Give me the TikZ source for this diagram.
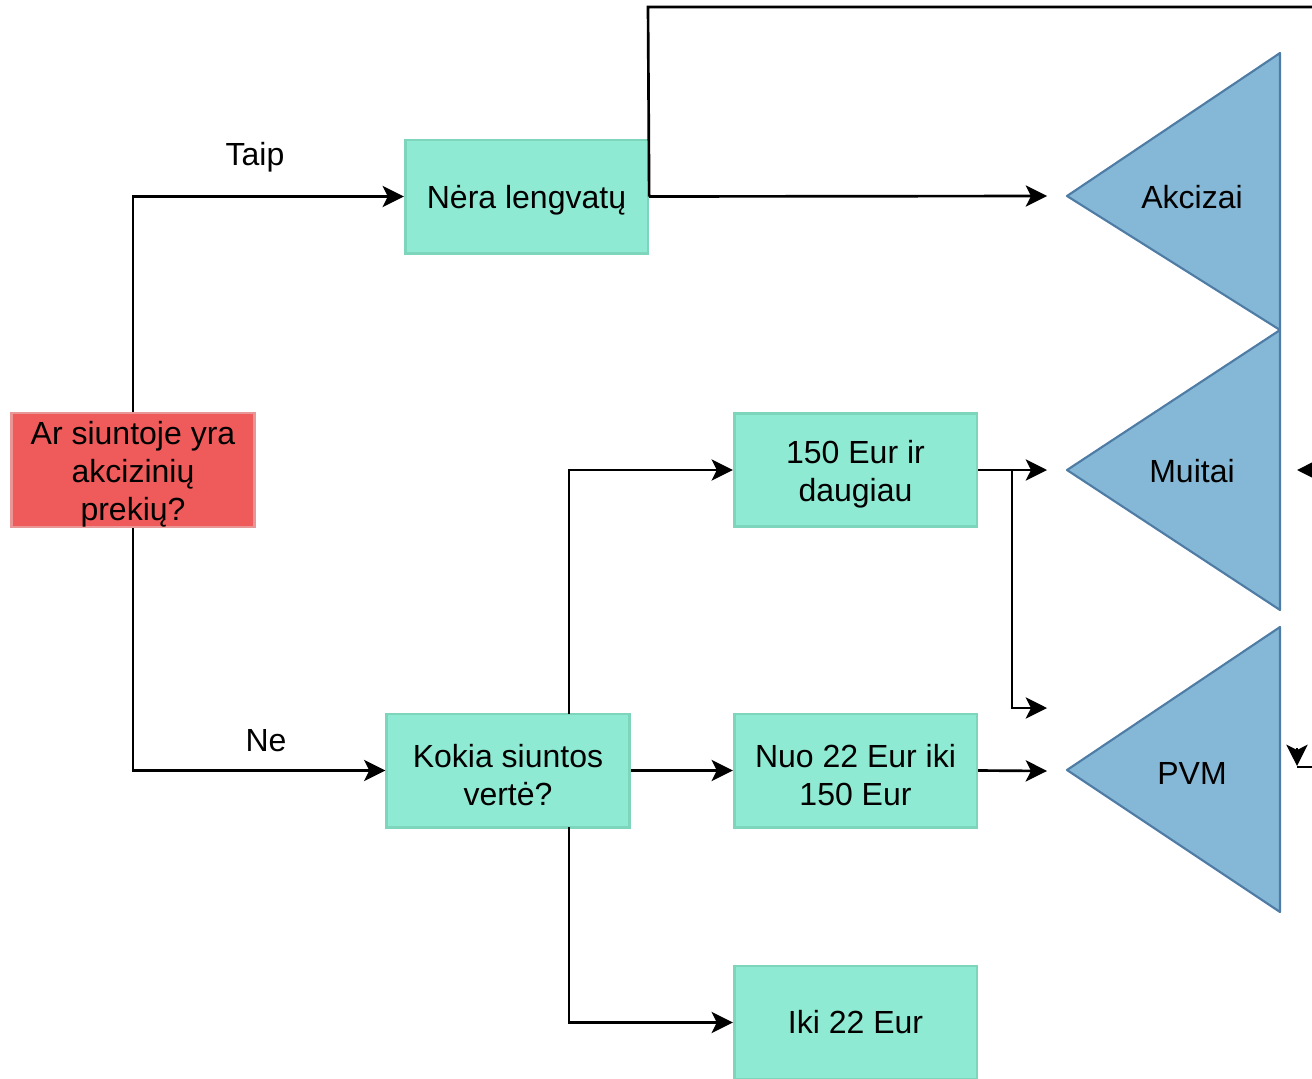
\documentclass[tikz,border=0pt]{standalone}
\usepackage{fontspec}
\setmainfont{Liberation Sans}
\usetikzlibrary{arrows.meta}
\definecolor{mint}{RGB}{143,234,211}
\definecolor{mintline}{RGB}{125,214,188}
\definecolor{redfill}{RGB}{239,90,90}
\definecolor{redline}{RGB}{232,150,150}
\definecolor{trifill}{RGB}{133,184,214}
\definecolor{triline}{RGB}{78,124,165}
\newcommand\boxstrut{\rule{0pt}{23.5pt}}
\tikzset{
  box/.style={draw=mintline, fill=mint, line width=2pt, minimum width=182pt, minimum height=85pt, inner sep=0pt, align=center, font=\fontsize{24}{28.5}\selectfont},
  qbox/.style={box, draw=redline, fill=redfill},
  tri/.style={draw=triline, fill=trifill, line width=1.6pt, line join=round},
  lbl/.style={font=\fontsize{24}{28.5}\selectfont, inner sep=0pt},
  conn/.style={line width=2pt, black},
  arr/.style={conn, -{Stealth[length=16pt,width=16pt,inset=4pt,line width=1.2pt]}},
}
\begin{document}
\begin{tikzpicture}[x=0.75pt,y=-0.75pt]
\useasboundingbox (0,0) rectangle (1312,1078);
% triangles
\draw[tri] (1067,196) -- (1280,53) -- (1280,330) -- cycle;
\draw[tri] (1067,470) -- (1280,330) -- (1280,610) -- cycle;
\draw[tri] (1067,770) -- (1280,627) -- (1280,912) -- cycle;
\node[lbl] (akc) at (1192,197) {Akcizai};
\node[lbl] (mui) at (1192,471) {Muitai};
\node[lbl] (pvm) at (1192,773) {PVM};
% boxes
\node[qbox] (q) at (133,470) {\boxstrut Ar siuntoje yra\\akcizinių\\prekių?};
\node[box] (nera) at (526.5,196.5) {\boxstrut Nėra lengvatų};
\node[box] (kokia) at (508,770.5) {\boxstrut Kokia siuntos\\vertė?};
\node[box] (b150) at (855.5,470) {\boxstrut 150 Eur ir\\daugiau};
\node[box] (nuo) at (855.5,770.5) {\boxstrut Nuo 22 Eur iki\\150 Eur};
\node[box] (iki) at (855.5,1022.5) {Iki 22 Eur};
% labels
\node[lbl] (taip) at (255,157) {Taip};
\node[lbl] (ne) at (266,741) {Ne};
% coordinates
\coordinate (akcin) at (1047,196);
\coordinate (muin) at (1047,470);
\coordinate (pvin) at (1047,771);
\coordinate (pvin2) at (1047,708);
\coordinate (br) at (1012,470);
\coordinate (topr) at (1312,7);
\coordinate (kup) at (569,714);
\coordinate (kdn) at (569,827);
\coordinate (edgeM) at (1312,470);
\coordinate (muback) at (1297,470);
\coordinate (edgeP) at (1312,767);
\coordinate (pvcorner) at (1297,767);
\coordinate (pvtop) at (1297,748);
\coordinate (pvtip) at (1297,766);
% connectors
\draw[arr] (q.north) |- (nera.west);
\draw[arr] (q.south) |- (kokia.west);
\draw[arr] (nera.east) -- (akcin);
\draw[conn] (nera.east) -- (648,7) -- (topr);
\draw[arr] (kup) |- (b150.west);
\draw[arr] (kokia.east) -- (nuo.west);
\draw[arr] (kdn) |- (iki.west);
\draw[arr] (b150.east) -- (muin);
\draw[arr] (br) |- (pvin2);
\draw[arr] (nuo.east) -- (pvin);
\draw[arr] (edgeM) -- (muback);
\draw[conn] (edgeP) -- (pvcorner);
\draw[arr] (pvtop) -- (pvtip);
\end{tikzpicture}
\end{document}
